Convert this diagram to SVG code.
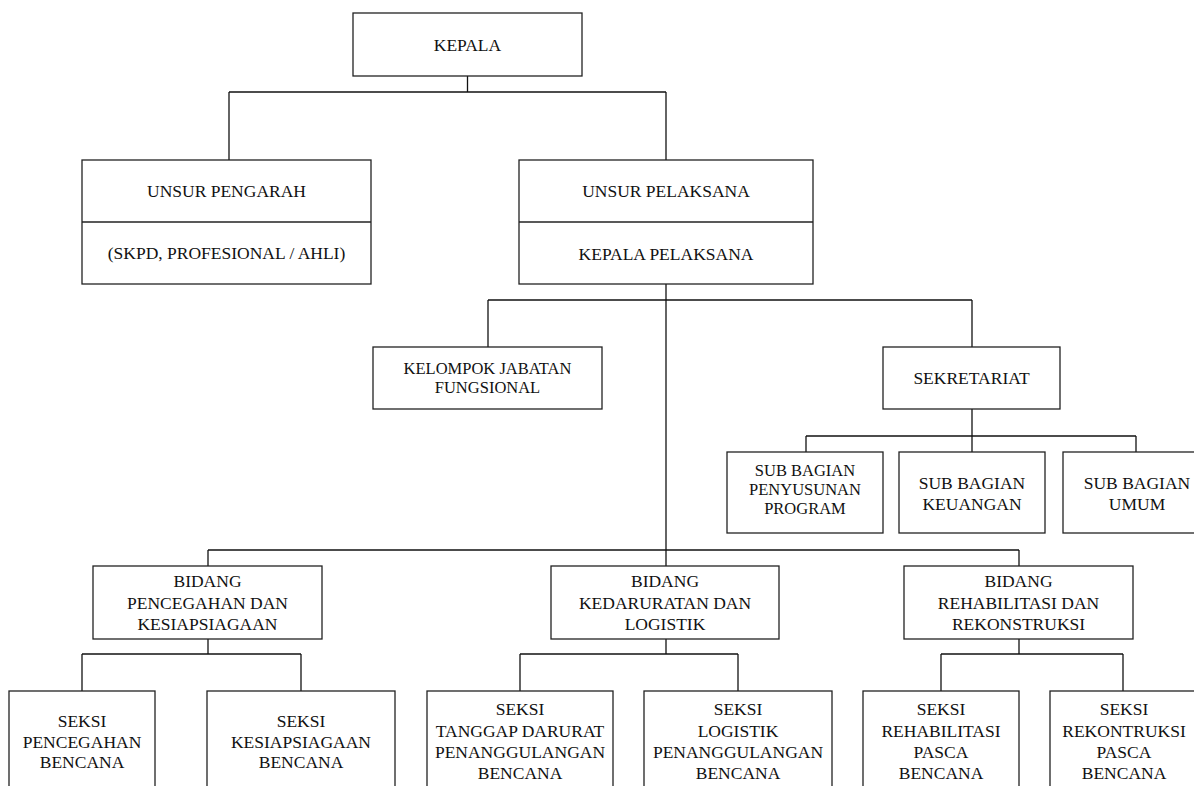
<svg xmlns="http://www.w3.org/2000/svg" width="1194" height="786" viewBox="0 0 1194 786">
<style>
rect, line.d { fill: #fff; stroke: #222; stroke-width: 1.3; }
#connectors line { stroke: #111; stroke-width: 1.3; }
text { font-family: "Liberation Serif", "Times New Roman", serif; font-size: 17.5px; fill: #111; text-anchor: middle; }
text.tight { font-size: 16.5px; }
</style>
<rect x="0" y="0" width="1194" height="786" style="fill:#fff;stroke:none"/>
<g id="connectors">
  <line x1="467.5" y1="76" x2="467.5" y2="92"/>
  <line x1="229" y1="92" x2="666" y2="92"/>
  <line x1="229" y1="92" x2="229" y2="160"/>
  <line x1="666" y1="92" x2="666" y2="160"/>
  <line x1="666" y1="284" x2="666" y2="566"/>
  <line x1="488" y1="300" x2="972" y2="300"/>
  <line x1="488" y1="300" x2="488" y2="347"/>
  <line x1="972" y1="300" x2="972" y2="347"/>
  <line x1="972" y1="409" x2="972" y2="452"/>
  <line x1="806" y1="436" x2="1136" y2="436"/>
  <line x1="806" y1="436" x2="806" y2="452"/>
  <line x1="1136" y1="436" x2="1136" y2="452"/>
  <line x1="208" y1="550" x2="1019" y2="550"/>
  <line x1="208" y1="550" x2="208" y2="566"/>
  <line x1="1019" y1="550" x2="1019" y2="566"/>
  <line x1="208" y1="639" x2="208" y2="654"/>
  <line x1="82" y1="654" x2="301" y2="654"/>
  <line x1="82" y1="654" x2="82" y2="691"/>
  <line x1="301" y1="654" x2="301" y2="691"/>
  <line x1="666" y1="639" x2="666" y2="654"/>
  <line x1="520" y1="654" x2="738" y2="654"/>
  <line x1="520" y1="654" x2="520" y2="691"/>
  <line x1="738" y1="654" x2="738" y2="691"/>
  <line x1="1019" y1="639" x2="1019" y2="654"/>
  <line x1="941" y1="654" x2="1123" y2="654"/>
  <line x1="941" y1="654" x2="941" y2="691"/>
  <line x1="1123" y1="654" x2="1123" y2="691"/>
</g>
<g id="kepala">
  <rect x="353" y="13" width="229" height="63"/>
  <text x="467.5" y="51">KEPALA</text>
</g>
<g id="unsur-pengarah">
  <rect x="82" y="160" width="289" height="124"/>
  <line class="d" x1="82" y1="222" x2="371" y2="222"/>
  <text x="226.5" y="197">UNSUR PENGARAH</text>
  <text x="226.5" y="259">(SKPD, PROFESIONAL / AHLI)</text>
</g>
<g id="unsur-pelaksana">
  <rect x="519" y="160" width="294" height="124"/>
  <line class="d" x1="519" y1="222" x2="813" y2="222"/>
  <text x="666" y="197">UNSUR PELAKSANA</text>
  <text x="666" y="260">KEPALA PELAKSANA</text>
</g>
<g id="kelompok">
  <rect x="373" y="347" width="229" height="62"/>
  <text class="tight" x="487.5" y="374">KELOMPOK JABATAN</text>
  <text class="tight" x="487.5" y="393">FUNGSIONAL</text>
</g>
<g id="sekretariat">
  <rect x="883" y="347" width="177" height="62"/>
  <text x="971.5" y="384">SEKRETARIAT</text>
</g>
<g id="sub-penyusunan">
  <rect x="727" y="452" width="156" height="81"/>
  <text class="tight" x="805" y="476">SUB BAGIAN</text>
  <text class="tight" x="805" y="495">PENYUSUNAN</text>
  <text class="tight" x="805" y="514">PROGRAM</text>
</g>
<g id="sub-keuangan">
  <rect x="899" y="452" width="146" height="81"/>
  <text x="972" y="489">SUB BAGIAN</text>
  <text x="972" y="510">KEUANGAN</text>
</g>
<g id="sub-umum">
  <rect x="1063" y="452" width="148" height="81"/>
  <text x="1137" y="489">SUB BAGIAN</text>
  <text x="1137" y="510">UMUM</text>
</g>
<g id="bidang-pencegahan">
  <rect x="93" y="566" width="229" height="73"/>
  <text x="207.5" y="587">BIDANG</text>
  <text x="207.5" y="609">PENCEGAHAN DAN</text>
  <text x="207.5" y="630">KESIAPSIAGAAN</text>
</g>
<g id="bidang-kedaruratan">
  <rect x="551" y="566" width="228" height="73"/>
  <text x="665" y="587">BIDANG</text>
  <text x="665" y="609">KEDARURATAN DAN</text>
  <text x="665" y="630">LOGISTIK</text>
</g>
<g id="bidang-rehabilitasi">
  <rect x="904" y="566" width="229" height="73"/>
  <text x="1018.5" y="587">BIDANG</text>
  <text x="1018.5" y="609">REHABILITASI DAN</text>
  <text x="1018.5" y="630">REKONSTRUKSI</text>
</g>
<g id="seksi-pencegahan">
  <rect x="9" y="691" width="146" height="110"/>
  <text x="82" y="727">SEKSI</text>
  <text x="82" y="747.5">PENCEGAHAN</text>
  <text x="82" y="768">BENCANA</text>
</g>
<g id="seksi-kesiapsiagaan">
  <rect x="207" y="691" width="188" height="110"/>
  <text x="301" y="727">SEKSI</text>
  <text x="301" y="747.5">KESIAPSIAGAAN</text>
  <text x="301" y="768">BENCANA</text>
</g>
<g id="seksi-tanggap">
  <rect x="427" y="691" width="186" height="110"/>
  <text x="520" y="715">SEKSI</text>
  <text x="520" y="736.5">TANGGAP DARURAT</text>
  <text x="520" y="758">PENANGGULANGAN</text>
  <text x="520" y="779">BENCANA</text>
</g>
<g id="seksi-logistik">
  <rect x="644" y="691" width="188" height="110"/>
  <text x="738" y="715">SEKSI</text>
  <text x="738" y="736.5">LOGISTIK</text>
  <text x="738" y="758">PENANGGULANGAN</text>
  <text x="738" y="779">BENCANA</text>
</g>
<g id="seksi-rehabilitasi">
  <rect x="863" y="691" width="156" height="110"/>
  <text x="941" y="715">SEKSI</text>
  <text x="941" y="736.5">REHABILITASI</text>
  <text x="941" y="758">PASCA</text>
  <text x="941" y="779">BENCANA</text>
</g>
<g id="seksi-rekontruksi">
  <rect x="1050" y="691" width="148" height="110"/>
  <text x="1124" y="715">SEKSI</text>
  <text x="1124" y="736.5">REKONTRUKSI</text>
  <text x="1124" y="758">PASCA</text>
  <text x="1124" y="779">BENCANA</text>
</g>
</svg>
